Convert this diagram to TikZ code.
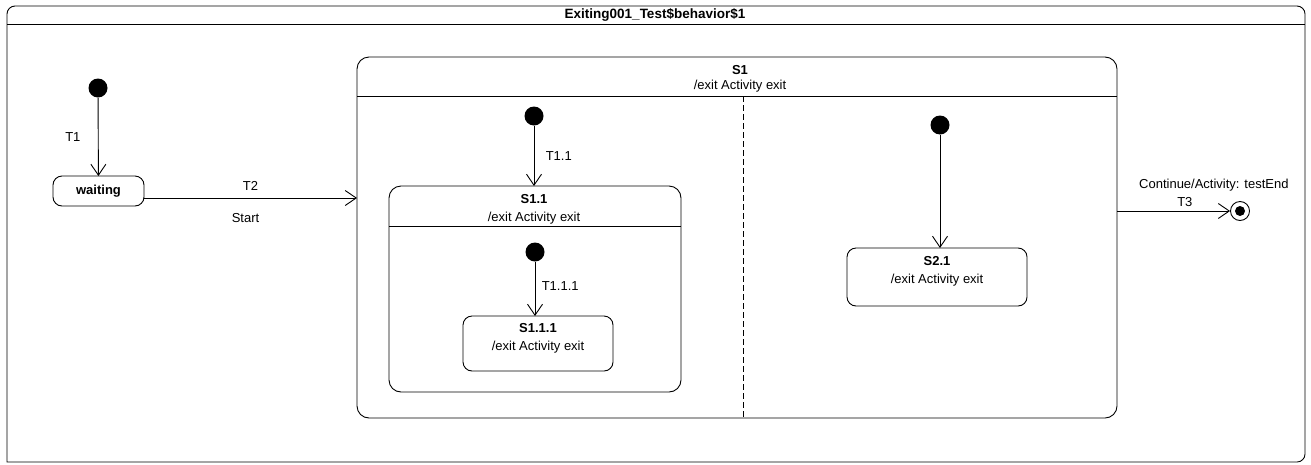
\documentclass[tikz,border=0pt]{standalone}
\usepackage{fontspec}
\setmainfont{Liberation Sans}
\usetikzlibrary{arrows.meta,positioning}

\begin{document}
\begin{tikzpicture}[
  x=1pt, y=-1pt,
  line width=0.9pt,
  font=\fontsize{13}{15}\selectfont,
  region/.style={
    draw,
    rounded corners=12pt,
    inner sep=0pt,
    outer sep=0pt
  },
  state/.style={
    draw,
    rounded corners=9pt,
    inner sep=0pt,
    outer sep=0pt
  },
  initial/.style={circle, fill, inner sep=0pt, minimum size=19pt},
  final/.style={
    circle, draw, inner sep=0pt, minimum size=19pt,
    path picture={\fill (path picture bounding box.center) circle (5pt);}
  },
  trans/.style={-{Straight Barb[length=11pt,width=15pt]}},
  sep/.style={align=center}
]
\useasboundingbox (0,0) rectangle (1311,464);

% frame
\draw (7,462) [rounded corners=8pt] |- (655,6) -| (1305,462) [sharp corners] -- cycle;
\node[font=\fontsize{13.5}{15}\selectfont\bfseries] (title) at (655,15) {Exiting001\_Test\$behavior\$1};
\draw (7,24) -- (1305,24);

% top level
\node[initial] (i0) at (98,88) {};
\node[state, minimum width=91pt, minimum height=30pt, font=\fontsize{13}{15}\selectfont\bfseries] (waiting) at (98.5,191) {waiting};

% S1
\node[region, minimum width=760pt, minimum height=361pt] (S1) at (737,237.5) {};
\node[font=\fontsize{13}{15}\selectfont\bfseries] (S1name) at (740,70) {S1};
\node (S1act) at (740,86) {/exit Activity exit};
\draw (357,96) -- (1117,96);
\draw[dash pattern=on 6pt off 3pt] (743,96) -- (743,418);

% region 1
\node[initial] (i11) at (534,116) {};
\node[region, minimum width=292pt, minimum height=206pt] (S11) at (535,289) {};
\node[font=\fontsize{13}{15}\selectfont\bfseries] (S11name) at (534,199) {S1.1};
\node (S11act) at (534,218) {/exit Activity exit};
\draw (389,226) -- (681,226);

\node[initial] (i111) at (535,252) {};
\node[state, minimum width=150pt, minimum height=55pt] (S111) at (538,343.5) {};
\node[sep] (S111txt) at (538,338) {\textbf{S1.1.1}\\[3pt]/exit Activity exit};

% region 2
\node[initial] (i21) at (940,125) {};
\node[state, minimum width=180pt, minimum height=58pt] (S21) at (937,277) {};
\node[sep] (S21txt) at (937,271) {\textbf{S2.1}\\[3pt]/exit Activity exit};

% final
\node[final] (fin) at (1240,211) {};

\draw[trans] (i0) -- node[left=14pt] {T1} (waiting);
\draw[trans] ([yshift=-7pt]waiting.east) -- node[above=4pt] {T2} node[below=12pt, xshift=-5pt] {Start} ([yshift=-7pt]waiting.east -| S1.west);
\draw[trans] (i11) -- node[right=8pt] {T1.1} (i11 |- S11.north);
\draw[trans] (i111) -- node[right=3pt, pos=0.45] {T1.1.1} (i111 |- S111.north);
\draw[trans] (i21) -- (i21 |- S21.north);
\draw[trans] (S1.east |- fin) -- node[above=1pt, pos=0.6] (t3) {T3} (fin);
\node[above=-2pt of t3, xshift=29pt] (t3trig) {Continue/Activity: testEnd};
\end{tikzpicture}
\end{document}
